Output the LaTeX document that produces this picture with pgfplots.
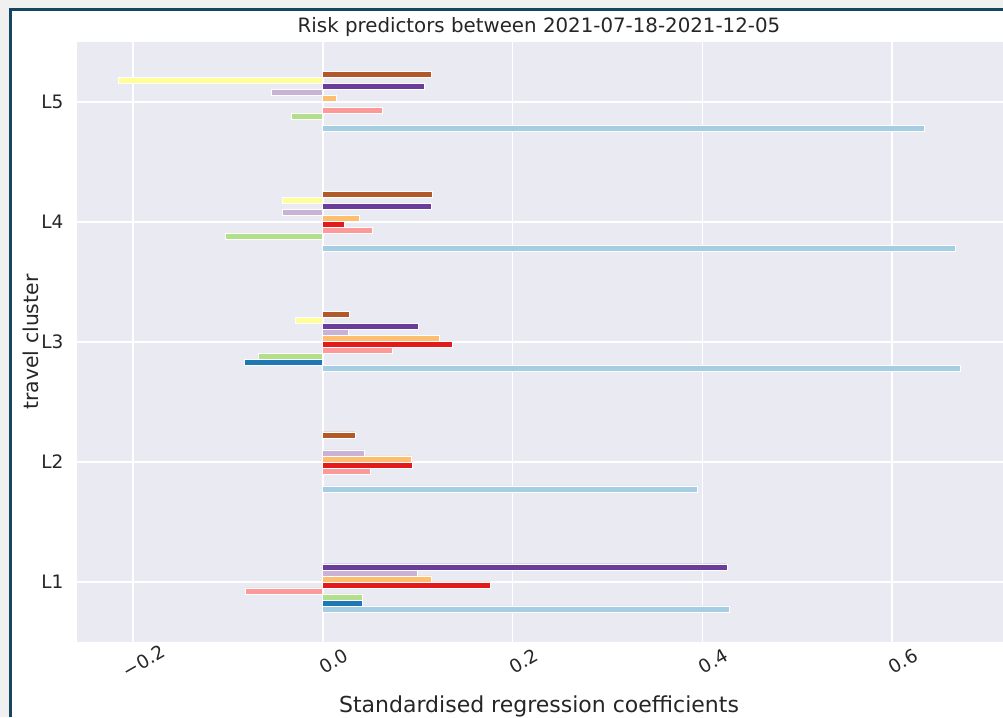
\documentclass[border=0pt]{standalone}
\usepackage{fontspec}
\setmainfont{DejaVu Sans}
\usepackage{pgfplots}
\pgfplotsset{compat=1.18}
\definecolor{bgc}{HTML}{EAEAF2}
\definecolor{txt}{HTML}{262626}
\definecolor{frame}{HTML}{16465F}
\definecolor{outg}{HTML}{F0F0F0}
\definecolor{c0}{HTML}{A6CEE3}
\definecolor{c1}{HTML}{1F78B4}
\definecolor{c2}{HTML}{B2DF8A}
\definecolor{c3}{HTML}{FB9A99}
\definecolor{c4}{HTML}{E31A1C}
\definecolor{c5}{HTML}{FDBF6F}
\definecolor{c6}{HTML}{CAB2D6}
\definecolor{c7}{HTML}{6A3D9A}
\definecolor{c8}{HTML}{FFFF99}
\definecolor{c9}{HTML}{B15928}
\pgfplotsset{mybar/.style={xbar, bar width=6pt, draw=white, line width=0.8pt, fill=#1}}
\begin{document}
\begin{tikzpicture}[x=1pt,y=1pt]
\path[use as bounding box] (0,0) rectangle (1003,717);
\fill[outg] (0,0) rectangle (1003,717);
\fill[white] (10.5,0) rectangle (1003,707.3);
\draw[frame, line width=2.6pt] (10.7,0) -- (10.7,707.3) -- (1003,707.3);
\begin{axis}[
  at={(76.7pt,75pt)}, anchor=south west,
  width=926.3pt, height=600.3pt, scale only axis,
  xmin=-0.2594, xmax=0.7169, ymin=-0.5, ymax=4.5,
  axis background/.style={fill=bgc},
  axis line style={draw=none},
  major tick length=0pt,
  xtick={-0.2,0,0.2,0.4,0.6},
  xticklabels={−0.2,0.0,0.2,0.4,0.6},
  ytick={0,1,2,3,4},
  yticklabels={L1,L2,L3,L4,L5},
  grid=major,
  major grid style={white, line width=1.6pt},
  ticklabel style={font=\fontsize{18.5}{20}\selectfont, text=txt},
  xticklabel style={rotate=30, anchor=center, yshift=-22pt},
  yticklabel style={anchor=east, inner sep=0pt, xshift=-13pt},
  clip=false,
]
\addplot[mybar=c0, bar shift=-27pt] coordinates {(0.4287,0) (0.3946,1) (0.6725,2) (0.667,3) (0.634,4)};
\addplot[mybar=c1, bar shift=-21pt] coordinates {(0.042,0) (-0.0828,2)};
\addplot[mybar=c2, bar shift=-15pt] coordinates {(0.042,0) (-0.0674,2) (-0.1025,3) (-0.0329,4)};
\addplot[mybar=c3, bar shift=-9pt] coordinates {(-0.0814,0) (0.050,1) (0.0737,2) (0.0526,3) (0.0627,4)};
\addplot[mybar=c4, bar shift=-3pt] coordinates {(0.1765,0) (0.0947,1) (0.1368,2) (0.023,3)};
\addplot[mybar=c5, bar shift=3pt] coordinates {(0.1144,0) (0.0934,1) (0.1228,2) (0.0386,3) (0.0139,4)};
\addplot[mybar=c6, bar shift=9pt] coordinates {(0.0993,0) (0.0435,1) (0.027,2) (-0.043,3) (-0.054,4)};
\addplot[mybar=c7, bar shift=15pt] coordinates {(0.4262,0) (0.1007,2) (0.114,3) (0.1073,4)};
\addplot[mybar=c8, bar shift=21pt] coordinates {(-0.029,2) (-0.043,3) (-0.2158,4)};
\addplot[mybar=c9, bar shift=27pt] coordinates {(0.034,1) (0.028,2) (0.115,3) (0.114,4)};
\end{axis}
\node[anchor=base, text=txt, font=\fontsize{19.8}{22}\selectfont, inner sep=0pt] at (539,684) {Risk predictors between 2021-07-18-2021-12-05};
\node[anchor=base, text=txt, font=\fontsize{22}{24}\selectfont, inner sep=0pt] at (539,4.5) {Standardised regression coefficients};
\node[rotate=90, anchor=base, text=txt, font=\fontsize{20.4}{22}\selectfont, inner sep=0pt] at (38,375) {travel cluster};
\end{tikzpicture}
\end{document}
